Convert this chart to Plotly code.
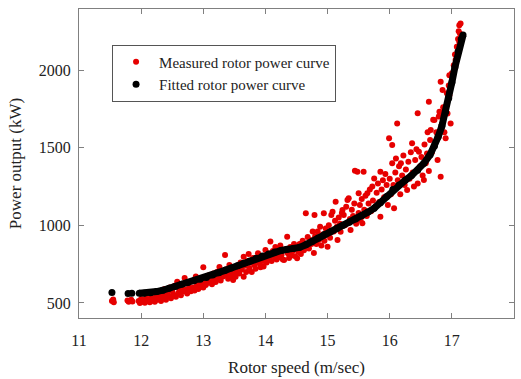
import plotly.graph_objects as go

# Fitted rotor power curve
fit_speed = [11.53, 11.79, 11.85, 11.97, 12.05, 12.15, 12.25, 12.35, 12.45, 12.55, 12.65, 12.75,
             12.85, 12.95, 13.05, 13.15, 13.25, 13.35, 13.45, 13.55, 13.65, 13.75, 13.85, 13.95,
             14.05, 14.15, 14.25, 14.35, 14.45, 14.55, 14.65, 14.75, 14.85, 14.95, 15.05, 15.15,
             15.25, 15.35, 15.45, 15.55, 15.65, 15.75, 15.85, 15.95, 16.05, 16.15, 16.25, 16.35,
             16.45, 16.55, 16.65, 16.72, 16.78, 16.84, 16.9, 16.95, 17.0, 17.05, 17.1, 17.15, 17.18]
fit_power = [568, 560, 562, 562, 563, 566, 573, 582, 594, 606, 620, 632,
             643, 653, 664, 680, 695, 710, 725, 740, 755, 770, 788, 803,
             815, 828, 838, 845, 850, 858, 875, 895, 918, 940, 960, 980,
             1000, 1020, 1040, 1062, 1085, 1110, 1145, 1185, 1230, 1260, 1290, 1320,
             1355, 1400, 1455, 1510, 1570, 1640, 1730, 1820, 1920, 2020, 2120, 2200, 2225]

# Measured rotor power curve
meas_speed = [
    11.53, 11.55, 11.56, 11.78, 11.8, 11.84, 11.86, 11.96, 11.98, 12.0, 12.02, 12.04, 12.06, 12.08,
    12.1, 12.12, 12.14, 12.16, 12.18, 12.2, 12.22, 12.24, 12.26, 12.28, 12.3,
    12.32, 12.34, 12.36, 12.38, 12.4, 12.42, 12.44, 12.46, 12.48, 12.5, 12.52, 12.54, 12.56, 12.58,
    12.6, 12.62, 12.64, 12.66, 12.68, 12.7, 12.72, 12.74, 12.76, 12.78, 12.8, 12.82, 12.84, 12.86,
    12.88, 12.9, 12.92, 12.94, 12.96, 12.98, 13.0, 13.0,
    13.02, 13.04, 13.06, 13.08, 13.1, 13.12, 13.14, 13.16, 13.18, 13.2, 13.22, 13.24, 13.26, 13.28,
    13.3, 13.32, 13.35, 13.36, 13.38, 13.4, 13.42, 13.44, 13.46, 13.48, 13.5, 13.5,
    13.52, 13.54, 13.56, 13.58, 13.6, 13.62, 13.65, 13.65, 13.67, 13.69, 13.71, 13.73, 13.74, 13.76,
    13.78, 13.8, 13.82, 13.84, 13.86, 13.88, 13.9, 13.92, 13.94, 13.96, 13.97, 13.99, 14.0,
    14.02, 14.04, 14.06, 14.08, 14.1, 14.12, 14.14, 14.16, 14.18, 14.2, 14.22, 14.24, 14.26, 14.28,
    14.3, 14.32, 14.35, 14.36, 14.38, 14.4, 14.42, 14.44, 14.46, 14.48, 14.5, 14.51,
    14.53, 14.55, 14.57, 14.6, 14.62, 14.65, 14.66, 14.68, 14.7, 14.72, 14.74, 14.76, 14.78, 14.79,
    14.8, 14.82, 14.84, 14.86, 14.88, 14.9, 14.92, 14.94, 14.95, 14.97, 15.0, 15.0,
    15.02, 15.04, 15.06, 15.08, 15.1, 15.12, 15.13, 15.15, 15.16, 15.18, 15.2, 15.21, 15.23, 15.24,
    15.26, 15.28, 15.3, 15.32, 15.34, 15.36, 15.37, 15.39, 15.41, 15.43, 15.44, 15.46, 15.48, 15.5, 15.5,
    15.52, 15.53, 15.55, 15.56, 15.58, 15.59, 15.61, 15.63, 15.64, 15.66, 15.68, 15.7, 15.72, 15.73,
    15.75, 15.77, 15.79, 15.81, 15.83, 15.85, 15.85, 15.87, 15.89, 15.91, 15.93, 15.95, 15.97, 15.99, 16.0,
    16.02, 16.04, 16.04, 16.06, 16.07, 16.09, 16.1, 16.12, 16.13, 16.15, 16.17, 16.18, 16.2, 16.22,
    16.24, 16.26, 16.28, 16.3, 16.32, 16.34, 16.36, 16.37, 16.39, 16.41, 16.43, 16.45, 16.45, 16.47, 16.49,
    16.51, 16.53, 16.55, 16.56, 16.58, 16.6, 16.61, 16.63, 16.63, 16.65, 16.66, 16.68, 16.7, 16.72,
    16.73, 16.75, 16.77, 16.77, 16.79, 16.8, 16.82, 16.82, 16.84, 16.85, 16.86, 16.88, 16.9, 16.9,
    16.92, 16.93, 16.95, 16.96, 16.96, 16.98, 17.0, 17.01, 17.03, 17.05, 17.06, 17.08, 17.1, 17.11,
    17.12, 17.13, 17.14, 17.12]
meas_power = [
    512, 522, 505, 515, 508, 520, 510, 512, 500, 525, 508, 518, 502, 530,
    512, 522, 505, 535, 515, 528, 508, 540, 520, 548, 530,
    512, 555, 538, 590, 520, 565, 545, 600, 530, 575, 555, 610, 540, 637,
    565, 590, 550, 605, 575, 661, 585, 560, 620, 595, 575, 640, 600, 580,
    670, 615, 590, 640, 605, 625, 730, 600,
    640, 615, 660, 630, 680, 645, 620, 690, 655, 635, 700, 665, 731, 645,
    690, 670, 809, 715, 680, 655, 745, 700, 675, 648, 720, 690,
    669, 710, 735, 690, 760, 715, 798, 669, 740, 700, 770, 815, 725, 760,
    700, 790, 745, 720, 775, 820, 755, 730, 800, 770, 734, 790, 841,
    760, 820, 790, 895, 770, 835, 800, 860, 780, 825, 795, 870, 810, 780,
    777, 845, 927, 820, 790, 860, 805, 835, 880, 800, 850, 788,
    830, 880, 815, 900, 840, 1077, 870, 925, 850, 905, 880, 960, 822, 1066,
    930, 880, 960, 905, 990, 870, 940, 1077, 900, 980, 862, 950,
    1000, 920, 1066, 1088, 960, 1030, 1152, 990, 905, 1050, 1010, 959, 1080, 1098,
    1066, 1000, 1120, 1163, 1175, 1040, 970, 1100, 1060, 1140, 1351, 1010, 1345, 1206, 1080,
    1130, 1034, 1170, 1013, 1345, 1100, 1190, 1060, 1206, 1140, 1230, 1090, 1250, 1160,
    1302, 1120, 1210, 1270, 1150, 1345, 1055, 1230, 1290, 1180, 1330, 1260, 1130, 1560, 1300,
    1200, 1517, 1399, 1260, 1109, 1340, 1430, 1656, 1290, 1380, 1200, 1399, 1320, 1450,
    1260, 1360, 1227, 1410, 1300, 1470, 1528, 1340, 1250, 1420, 1490, 1721, 1270, 1474, 1380,
    1440, 1320, 1291, 1520, 1400, 1463, 1600, 1796, 1350, 1549, 1613, 1470, 1680, 1678,
    1520, 1600, 1581, 1420, 1700, 1731, 1924, 1313, 1650, 1871, 1760, 1600, 1763, 1560,
    1850, 1720, 1900, 1838, 1967, 1656, 1980, 1957, 2030, 2100, 2064, 2150, 2200, 2250,
    2289, 2235, 2300, 2180]

x_ticks = [11, 12, 13, 14, 15, 16, 17, 18]
y_ticks = [500, 1000, 1500, 2000]

RED = "#e60000"
FONT = "Liberation Serif"
TXT = "#222"

fig = go.Figure()
fig.add_trace(go.Scatter(x=meas_speed, y=meas_power, mode="markers",
                         marker=dict(color=RED, size=6, line=dict(width=0)),
                         name="Measured rotor power curve"))
# continuous part of the fitted curve (the first three fitted points are isolated dots)
fig.add_trace(go.Scatter(x=fit_speed[3:], y=fit_power[3:], mode="lines",
                         line=dict(color="black", width=7),
                         showlegend=False, hoverinfo="skip"))
fig.add_trace(go.Scatter(x=fit_speed, y=fit_power, mode="markers",
                         marker=dict(color="black", size=7, line=dict(width=0)),
                         name="Fitted rotor power curve"))

axis_common = dict(showline=True, linecolor="#808080", linewidth=1, mirror="ticks",
                   ticks="inside", ticklen=5, tickcolor="#808080", showgrid=False,
                   zeroline=False, tickfont=dict(family=FONT, size=16, color=TXT))

fig.update_xaxes(range=[11, 18], tickvals=x_ticks, ticktext=[str(v) for v in x_ticks],
                 title=dict(text="Rotor speed (m/sec)", font=dict(family=FONT, size=17, color=TXT),
                            standoff=12),
                 ticklabelstandoff=8, **axis_common)
fig.update_yaxes(range=[403, 2393], tickvals=y_ticks, ticktext=[str(v) for v in y_ticks],
                 title=dict(text="Power output (kW)", font=dict(family=FONT, size=17, color=TXT),
                            standoff=12),
                 ticklabelstandoff=4, **axis_common)

fig.update_layout(
    width=521, height=379,
    margin=dict(l=79, r=7, t=9, b=61),
    paper_bgcolor="white", plot_bgcolor="white",
    legend=dict(x=0.076, y=0.885, xanchor="left", yanchor="top",
                bordercolor="#555", borderwidth=1, bgcolor="white",
                font=dict(family=FONT, size=15, color=TXT),
                tracegroupgap=0, itemwidth=36),
    showlegend=True,
)

fig.write_html("out.html")
